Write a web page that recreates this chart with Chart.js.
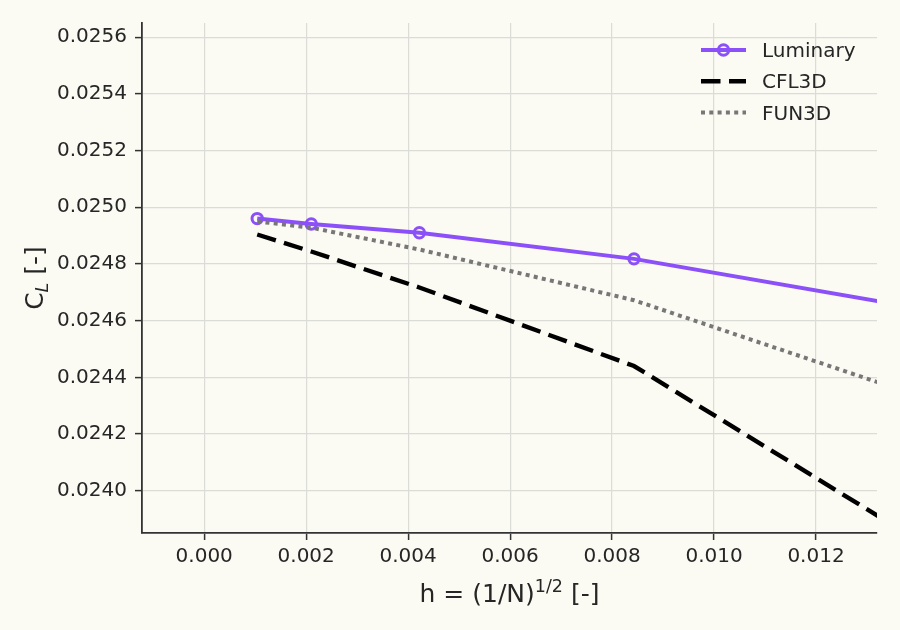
<!DOCTYPE html>
<html>
<head>
<meta charset="utf-8">
<title>CL grid convergence</title>
<script src="https://cdn.jsdelivr.net/npm/chart.js@4.4.0/dist/chart.umd.min.js"></script>
<style>
  html, body { margin: 0; padding: 0; background: #fbfaf3; }
  #wrap { width: 900px; height: 630px; }
</style>
</head>
<body>
<div id="wrap"><canvas id="cl-chart" width="900" height="630"></canvas></div>
<script>
    "use strict";

    // grid spacing h = (1/N)^(1/2), coarse grid is off the right edge
    const h = [0.00104, 0.00210, 0.00422, 0.00843, 0.01686];

    // lift coefficient
    const luminary = [0.024960, 0.024941, 0.024910, 0.024818, 0.024555];
    const cfl3d    = [0.024904, 0.024844, 0.024717, 0.024440, 0.023508];
    const fun3d    = [0.024950, 0.024928, 0.024851, 0.024672, 0.024162];

    const seriesNames = ["Luminary", "CFL3D", "FUN3D"];

    // tick labels
    const xTicks = [0.000, 0.002, 0.004, 0.006, 0.008, 0.010, 0.012];
    const yTicks = [0.0240, 0.0242, 0.0244, 0.0246, 0.0248, 0.0250, 0.0252, 0.0254, 0.0256];

    const FONT = "DejaVu Sans";
    const INK = "#262626";
    const BG = "#fbfaf3";

    function pts(ys) {
        return h.map(function (x, i) { return {x: x, y: ys[i]}; });
    }

    // paint background
    const background = {
        id: "background",
        beforeDraw: function (chart) {
            const ctx = chart.ctx;
            ctx.save();
            ctx.fillStyle = BG;
            ctx.fillRect(0, 0, chart.width, chart.height);
            ctx.restore();
        }
    };

    // axis titles with sub/superscripts + legend box
    const annotate = {
        id: "annotate",
        afterDraw: function (chart) {
            const ctx = chart.ctx;
            const a = chart.chartArea;
            ctx.save();
            ctx.fillStyle = INK;
            ctx.textBaseline = "alphabetic";

            // x title: h = (1/N)^{1/2} [-]
            const big = "25px '" + FONT + "'";
            const small = "17.5px '" + FONT + "'";
            ctx.font = big;
            const p1 = "h = (1/N)", p3 = " [-]";
            const w1 = ctx.measureText(p1).width, w3 = ctx.measureText(p3).width;
            ctx.font = small;
            const w2 = ctx.measureText("1/2").width;
            let x = (a.left + a.right) / 2 - (w1 + w2 + w3) / 2;
            const yb = 602;
            ctx.font = big;
            ctx.fillText(p1, x, yb);
            ctx.font = small;
            ctx.fillText("1/2", x + w1, yb - 10.5);
            ctx.font = big;
            ctx.fillText(p3, x + w1 + w2, yb);

            // y title: C_L [-]
            ctx.save();
            ctx.translate(43, (a.top + a.bottom) / 2);
            ctx.rotate(-Math.PI / 2);
            ctx.font = big;
            const c1 = ctx.measureText("C").width;
            const c3 = ctx.measureText(" [-]").width;
            ctx.font = "italic 17.5px '" + FONT + "'";
            const c2 = ctx.measureText("L").width;
            x = -(c1 + c2 + c3) / 2;
            ctx.font = big;
            ctx.fillText("C", x, 0);
            ctx.font = "italic 17.5px '" + FONT + "'";
            ctx.fillText("L", x + c1, 5);
            ctx.font = big;
            ctx.fillText(" [-]", x + c1 + c2, 0);
            ctx.restore();

            // legend
            const x0 = a.right - 176, x1 = a.right - 131, tx = a.right - 115;
            ctx.font = "20px '" + FONT + "'";
            chart.data.datasets.forEach(function (ds, i) {
                const y = a.top + 27 + i * 31.3;
                ctx.save();
                ctx.strokeStyle = ds.borderColor;
                ctx.lineWidth = ds.borderWidth;
                ctx.setLineDash(ds.borderDash || []);
                ctx.beginPath();
                ctx.moveTo(x0, y);
                ctx.lineTo(x1, y);
                ctx.stroke();
                if (ds.pointRadius > 0) {
                    ctx.setLineDash([]);
                    ctx.lineWidth = ds.pointBorderWidth;
                    ctx.beginPath();
                    ctx.arc((x0 + x1) / 2, y, ds.pointRadius, 0, Math.PI * 2);
                    ctx.stroke();
                }
                ctx.restore();
                ctx.fillText(ds.label, tx, y + 7);
            });
            ctx.restore();
        }
    };

    const tickFont = {family: FONT, size: 20};

    const ctx1 = document.getElementById("cl-chart").getContext("2d");
    const myChart = new Chart(ctx1, {
        type: "line",
        data: {
            datasets: [{
                label: seriesNames[0],
                data: pts(luminary),
                borderColor: "#8b50f8",
                borderWidth: 4,
                pointRadius: 5.2,
                pointHoverRadius: 5.2,
                pointBorderWidth: 3,
                pointBorderColor: "#8b50f8",
                pointBackgroundColor: "rgba(0,0,0,0)",
                order: 3,
                clip: 0
            }, {
                label: seriesNames[1],
                data: pts(cfl3d),
                borderColor: "#000000",
                borderWidth: 4.4,
                borderDash: [19.5, 8.5],
                pointRadius: 0,
                order: 2,
                clip: 0
            }, {
                label: seriesNames[2],
                data: pts(fun3d),
                borderColor: "#777777",
                borderWidth: 4,
                borderDash: [4, 4.3],
                pointRadius: 0,
                order: 1,
                clip: 0
            }]
        },
        options: {
            responsive: false,
            animation: false,
            events: [],
            layout: {padding: {top: 23, right: 23, left: 0, bottom: 0}},
            plugins: {
                legend: {display: false},
                tooltip: {enabled: false}
            },
            elements: {line: {tension: 0, borderCapStyle: "butt"}},
            scales: {
                x: {
                    type: "linear",
                    min: -0.00122,
                    max: 0.013196,
                    afterBuildTicks: function (s) { s.ticks = xTicks.map(function (v) { return {value: v}; }); },
                    afterFit: function (s) { s.height = 97; },
                    grid: {color: "#dcdcd6", lineWidth: 1.2, tickLength: 7, tickColor: "#333333", tickWidth: 1.5},
                    border: {color: "#333333", width: 1.8},
                    ticks: {
                        color: INK, font: tickFont, padding: 5, maxRotation: 0, autoSkip: false,
                        callback: function (v) { return v.toFixed(3); }
                    }
                },
                y: {
                    type: "linear",
                    min: 0.023851,
                    max: 0.025650,
                    afterBuildTicks: function (s) { s.ticks = yTicks.map(function (v) { return {value: v}; }); },
                    afterFit: function (s) { s.width = 142; },
                    grid: {color: "#dcdcd6", lineWidth: 1.2, tickLength: 7, tickColor: "#333333", tickWidth: 1.5},
                    border: {color: "#333333", width: 1.8},
                    ticks: {
                        color: INK, font: tickFont, padding: 8, autoSkip: false,
                        callback: function (v) { return v.toFixed(4); }
                    }
                }
            }
        },
        plugins: [background, annotate]
    });
</script>
</body>
</html>
